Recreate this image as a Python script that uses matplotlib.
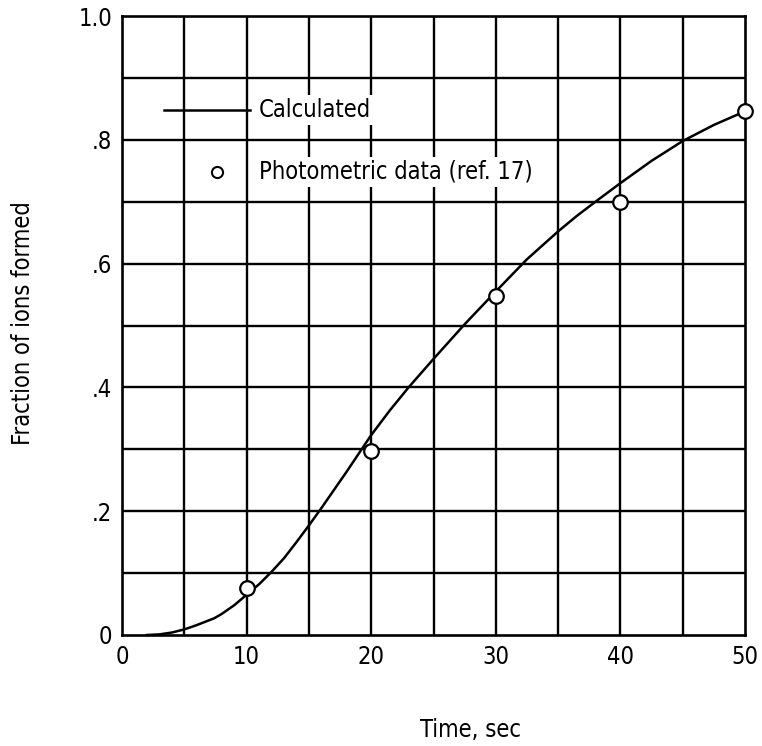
import matplotlib
matplotlib.use("Agg")
import matplotlib.pyplot as plt

plt.rcParams['font.family'] = ['DejaVu Sans']
plt.rcParams['font.stretch'] = 'condensed'

# Calculated curve
calc_t = [2, 3, 4, 5, 6, 7.4, 8, 9, 10, 11, 12, 13, 14, 15, 16, 17, 18, 19, 20,
          21.5, 23, 25, 27.5, 30, 32.5, 35, 36.5, 38, 40, 42.5, 45, 47.5, 50]
calc_f = [0.0, 0.001, 0.004, 0.009, 0.016, 0.027, 0.034, 0.048, 0.065, 0.082,
          0.102, 0.124, 0.150, 0.177, 0.205, 0.234, 0.263, 0.293, 0.323,
          0.363, 0.400, 0.446, 0.502, 0.555, 0.607, 0.652, 0.677, 0.700,
          0.730, 0.766, 0.798, 0.824, 0.846]

# Photometric data (ref. 17)
data_t = [10, 20, 30, 40, 50]
data_f = [0.076, 0.297, 0.548, 0.699, 0.847]

xticks = [0, 10, 20, 30, 40, 50]
xticklabels = ["0", "10", "20", "30", "40", "50"]
yticks = [0, 0.2, 0.4, 0.6, 0.8, 1.0]
yticklabels = ["0", ".2", ".4", ".6", ".8", "1.0"]

FS = 17

fig = plt.figure(figsize=(7.62, 7.46), dpi=100)
ax = fig.add_axes([122/762, 1 - 635/746, (745-122)/762, (635-16)/746])
ax.set_xlim(0, 50)
ax.set_ylim(0, 1.0)

# grid
for gx in range(5, 50, 5):
    ax.axvline(gx, color='black', lw=1.7, zorder=1)
for gy in [0.1 * i for i in range(1, 10)]:
    ax.axhline(gy, color='black', lw=1.7, zorder=1)
for s in ax.spines.values():
    s.set_linewidth(1.9)

ax.plot(calc_t, calc_f, color='black', lw=1.8, zorder=3, clip_on=False)
ax.plot(data_t, data_f, 'o', mfc='white', mec='black', mew=1.6, ms=10.5,
        zorder=4, clip_on=False)

ax.set_xticks(xticks)
ax.set_xticklabels(xticklabels)
ax.set_yticks(yticks)
ax.set_yticklabels(yticklabels)
ax.tick_params(length=0, labelsize=FS, pad=7)

# legend (manual)
ax.plot([3.4, 10.3], [0.848, 0.848], color='black', lw=1.8, zorder=3)
ax.text(11.0, 0.848, "Calculated", fontsize=FS, va='center', ha='left', zorder=5,
        bbox=dict(facecolor='white', edgecolor='none', pad=2))
ax.plot([7.6], [0.748], 'o', mfc='white', mec='black', mew=1.5, ms=8, zorder=4)
ax.text(11.0, 0.748, "Photometric data (ref. 17)", fontsize=FS, va='center',
        ha='left', zorder=5, bbox=dict(facecolor='white', edgecolor='none', pad=2))

fig.text(23/762, 1 - 323/746, "Fraction of ions formed", rotation=90,
         fontsize=FS, ha='center', va='center')
fig.text(471/762, 1 - 730/746, "Time, sec", fontsize=FS, ha='center', va='center')

fig.savefig("out.png", dpi=100, facecolor='white')
